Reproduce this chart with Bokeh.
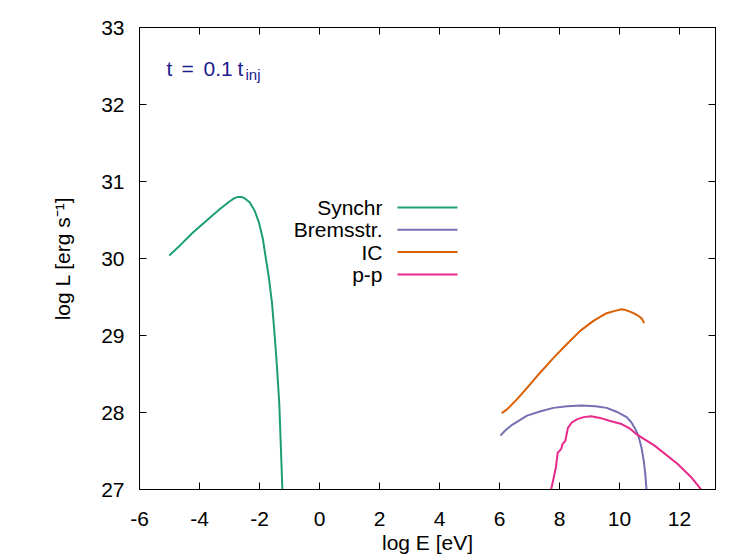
import numpy as np
from bokeh.plotting import figure
from bokeh.models import LinearAxis, FixedTicker, Label, Range1d
from bokeh.embed import file_html
from bokeh.resources import INLINE

# ---- data ----
synch_x = [-5.01, -4.65, -4.21, -3.77, -3.33, -3.0, -2.85, -2.72, -2.6, -2.49, -2.33, -2.16,
           -2.02, -1.89, -1.80, -1.69, -1.58, -1.49, -1.41, -1.34, -1.30, -1.24, -1.22]
synch_y = [30.04, 30.17, 30.34, 30.49, 30.64, 30.74, 30.78, 30.80, 30.80, 30.78, 30.73, 30.62,
           30.47, 30.26, 30.03, 29.76, 29.41, 28.98, 28.55, 28.11, 27.68, 27.03, 26.85]

brems_x = [6.03, 6.2, 6.42, 6.92, 7.4, 7.80, 8.25, 8.74, 9.2, 9.57, 9.9, 10.24, 10.4, 10.52,
           10.62, 10.73, 10.81, 10.86, 10.9, 10.91]
brems_y = [27.70, 27.77, 27.84, 27.96, 28.02, 28.06, 28.08, 28.09, 28.08, 28.06, 28.01, 27.94,
           27.87, 27.79, 27.71, 27.55, 27.37, 27.20, 27.0, 26.9]

ic_x = [6.07, 6.25, 6.58, 6.92, 7.36, 7.80, 8.25, 8.69, 9.13, 9.57, 9.85, 10.07, 10.2, 10.35,
        10.52, 10.68, 10.76, 10.82]
ic_y = [27.99, 28.04, 28.17, 28.32, 28.52, 28.71, 28.89, 29.06, 29.19, 29.29, 29.32, 29.34,
        29.33, 29.31, 29.28, 29.24, 29.21, 29.16]

pp_x = [7.70, 7.72, 7.81, 7.88, 7.94, 8.00, 8.06, 8.10, 8.19, 8.24, 8.28, 8.41, 8.58, 8.8,
        9.05, 9.35, 9.69, 10.07, 10.35, 10.56, 11.17, 11.94, 12.39, 12.72, 12.80]
pp_y = [26.90, 27.00, 27.16, 27.29, 27.48, 27.50, 27.53, 27.59, 27.63, 27.72, 27.80, 27.87,
        27.91, 27.94, 27.95, 27.93, 27.89, 27.85, 27.79, 27.72, 27.57, 27.33, 27.16, 27.00, 26.95]

series_names = ["Synchr", "Bremsstr.", "IC", "p-p"]
series_colors = ["#1b9e77", "#7570b3", "#d95f02", "#e7298a"]
x_ticks = [-6, -4, -2, 0, 2, 4, 6, 8, 10, 12]
y_ticks = [27, 28, 29, 30, 31, 32, 33]

FONT = "Liberation Sans"
FS = "21px"

LEFT, TOP = 139, 27
p = figure(frame_width=576, frame_height=462, output_backend="svg", toolbar_location=None,
           x_range=Range1d(-6, 13.2), y_range=Range1d(27, 33),
           min_border_left=LEFT, min_border_right=10, min_border_top=TOP, min_border_bottom=70,
           background_fill_color="white", border_fill_color="white")
p.grid.visible = False
p.outline_line_color = "black"
p.outline_line_width = 1

def style_axis(ax, ticks, show_labels):
    ax.ticker = FixedTicker(ticks=ticks)
    ax.major_tick_in = 7
    ax.major_tick_out = 0
    ax.minor_tick_line_color = None
    ax.axis_line_color = "black"
    ax.major_tick_line_color = "black"
    ax.major_label_text_font = FONT
    ax.major_label_text_color = "black"
    if show_labels:
        ax.major_label_text_font_size = FS
        ax.major_label_overrides = {t: str(t) for t in ticks}
    else:
        ax.major_label_text_font_size = "0px"
        ax.major_label_standoff = 0

style_axis(p.xaxis[0], x_ticks, True)
style_axis(p.yaxis[0], y_ticks, True)
p.xaxis[0].major_label_standoff = 22
p.yaxis[0].major_label_standoff = 15

p.xaxis[0].axis_label = "log E [eV]"
p.yaxis[0].axis_label = "log L [erg s\u207b\u00b9]"
for ax in (p.xaxis[0], p.yaxis[0]):
    ax.axis_label_text_font = FONT
    ax.axis_label_text_font_size = FS
    ax.axis_label_text_font_style = "normal"
    ax.axis_label_text_color = "black"
p.xaxis[0].axis_label_standoff = 2
p.yaxis[0].axis_label_standoff = 24

top = LinearAxis()
right = LinearAxis()
style_axis(top, x_ticks, False)
style_axis(right, y_ticks, False)
p.add_layout(top, "above")
p.add_layout(right, "right")

# ---- curves ----
xs_list = [synch_x, brems_x, ic_x, pp_x]
ys_list = [synch_y, brems_y, ic_y, pp_y]
for xs, ys, c in zip(xs_list, ys_list, series_colors):
    p.line(xs, ys, line_color=c, line_width=2, line_join="round")

# ---- pixel helpers (frame: left=139, top=27, 30 px / unit in x, 77 px / unit in y) ----
px_x = 19.2 / 576.0
px_y = 6.0 / 462.0

def dx(px):
    return -6 + (px - LEFT) * px_x

def dy(py):
    return 33 - (py - TOP) * px_y

# ---- legend (gnuplot style: text then line sample) ----
for i, (name, c) in enumerate(zip(series_names, series_colors)):
    yy = dy(207 + 22.3 * i)
    p.add_layout(Label(x=dx(382), y=yy, text=name, text_align="right", text_baseline="middle",
                       text_font=FONT, text_font_size=FS, text_color="black"))
    p.line([dx(397), dx(457)], [yy, yy], line_color=c, line_width=2)

# ---- annotation t = 0.1 t_inj ----
navy = "#1c1c8c"
for txt, x0, y0, fs in [("t", 166, 68, FS), ("=", 181, 68, FS), ("0.1", 203, 68, FS),
                        ("t", 237, 68, FS), ("inj", 245, 74, "15px")]:
    p.add_layout(Label(x=dx(x0), y=dy(y0), text=txt, text_align="left", text_baseline="alphabetic",
                       text_font=FONT, text_font_size=fs, text_color=navy))

open("out.html", "w").write(file_html(p, INLINE))
